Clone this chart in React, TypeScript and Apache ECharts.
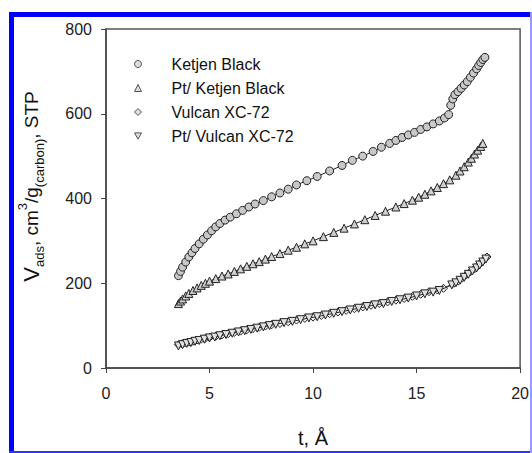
import React, { useEffect, useRef } from "react";
import * as echarts from "echarts";

const seriesNames = ["Ketjen Black", "Pt/ Ketjen Black", "Vulcan XC-72", "Pt/ Vulcan XC-72"];

const ketjenT = [3.5, 3.6, 3.7, 3.85, 4.0, 4.15, 4.3, 4.5, 4.7, 4.9, 5.1, 5.3, 5.5, 5.75, 6.0, 6.3, 6.6, 6.9, 7.2, 7.6, 8.0, 8.4, 8.8, 9.2, 9.7, 10.2, 10.8, 11.4, 11.9, 12.4, 12.9, 13.3, 13.7, 14.0, 14.3, 14.6, 14.9, 15.2, 15.5, 15.8, 16.1, 16.35, 16.55, 16.65, 16.75, 16.85, 17.0, 17.15, 17.3, 17.45, 17.6, 17.75, 17.9, 18.0, 18.1, 18.2, 18.3];
const ketjenV = [218, 228, 238, 250, 262, 272, 282, 293, 304, 314, 324, 333, 341, 349, 356, 364, 372, 380, 387, 395, 404, 413, 422, 432, 442, 452, 465, 478, 490, 500, 511, 521, 530, 537, 544, 550, 556, 563, 569, 576, 583, 590, 598, 620, 635, 645, 652, 660, 668, 676, 686, 696, 706, 714, 721, 728, 733];

const ptKetjenT = [3.5, 3.6, 3.7, 3.85, 4.0, 4.2, 4.4, 4.6, 4.8, 5.0, 5.3, 5.6, 5.9, 6.2, 6.5, 6.8, 7.1, 7.4, 7.7, 8.0, 8.4, 8.8, 9.2, 9.6, 10.0, 10.5, 11.0, 11.5, 12.0, 12.5, 13.0, 13.5, 14.0, 14.4, 14.8, 15.1, 15.4, 15.7, 16.0, 16.3, 16.6, 16.9, 17.1, 17.3, 17.5, 17.65, 17.8, 17.95, 18.1, 18.2];
const ptKetjenV = [152, 158, 163, 170, 176, 183, 189, 195, 200, 205, 211, 217, 222, 228, 234, 240, 246, 251, 257, 263, 270, 278, 285, 293, 300, 310, 320, 330, 340, 350, 360, 370, 380, 388, 396, 403, 410, 418, 426, 435, 444, 455, 465, 475, 486, 495, 505, 514, 523, 530];

const vulcanT = [3.5, 3.65, 3.8, 4.0, 4.2, 4.4, 4.6, 4.8, 5.0, 5.3, 5.6, 5.9, 6.2, 6.5, 6.8, 7.1, 7.4, 7.7, 8.0, 8.4, 8.8, 9.2, 9.6, 10.0, 10.4, 10.8, 11.2, 11.6, 12.0, 12.4, 12.8, 13.2, 13.6, 14.0, 14.4, 14.8, 15.2, 15.6, 16.0, 16.3, 16.8, 17.0, 17.2, 17.4, 17.6, 17.8, 17.95, 18.1, 18.25, 18.4];
const vulcanV = [55, 57, 59, 61, 63, 66, 68, 70, 72, 75, 78, 81, 84, 87, 90, 93, 96, 99, 102, 105, 109, 113, 117, 120, 124, 128, 132, 136, 140, 144, 148, 152, 156, 160, 164, 169, 174, 180, 184, 188, 200, 205, 212, 220, 227, 234, 241, 248, 255, 262];

const ptVulcanT = [3.5, 3.7, 3.9, 4.1, 4.3, 4.5, 4.75, 5.0, 5.25, 5.5, 5.8, 6.1, 6.4, 6.7, 7.0, 7.3, 7.6, 7.9, 8.2, 8.6, 9.0, 9.4, 9.8, 10.2, 10.6, 11.0, 11.4, 11.8, 12.2, 12.6, 13.0, 13.4, 13.8, 14.2, 14.6, 15.0, 15.4, 15.8, 16.1, 16.7, 16.9, 17.1, 17.3, 17.5, 17.7, 17.9, 18.05, 18.2, 18.35];
const ptVulcanV = [52, 55, 58, 60, 63, 65, 68, 71, 73, 76, 79, 82, 85, 88, 91, 94, 97, 100, 103, 107, 110, 114, 118, 121, 125, 129, 133, 137, 141, 145, 149, 152, 157, 161, 165, 170, 175, 179, 183, 196, 201, 207, 214, 221, 229, 236, 243, 250, 257];

const xTicks = { min: 0, max: 20, interval: 5 };
const yTicks = { min: 0, max: 800, interval: 200 };

const FONT = "Liberation Sans, Arial, sans-serif";
const DOWN_TRI = "path://M0,0L10,0L5,9Z";
const DIAMOND = "path://M5,0L10,5L5,10L0,5Z";
const symbols = ["circle", "triangle", DIAMOND, DOWN_TRI];
const fills = ["#c8c8c8", "#d0d0d0", "#f0f0f0", "#e0e0e0"];

const zip = (t: number[], v: number[]) => t.map((x, i) => [x, v[i]]);

export default function App() {
  const ref = useRef<HTMLDivElement>(null);
  useEffect(() => {
    if (!ref.current) return;
    const chart = echarts.init(ref.current, undefined, { renderer: "svg" });
    const datas = [zip(ketjenT, ketjenV), zip(ptKetjenT, ptKetjenV), zip(vulcanT, vulcanV), zip(ptVulcanT, ptVulcanV)];
    chart.setOption({
      animation: false,
      backgroundColor: "#ffffff",
      grid: { left: 106, right: 10, top: 29, bottom: 84, show: true, borderColor: "#555", borderWidth: 1.5 },
      legend: {
        orient: "vertical",
        left: 129,
        top: 51,
        itemWidth: 7,
        itemHeight: 7,
        itemGap: 8,
        data: seriesNames.map((n, i) => ({ name: n, icon: symbols[i] })),
        itemStyle: { color: "#dddddd", borderColor: "#555", borderWidth: 1 },
        textStyle: { fontFamily: FONT, fontSize: 16, color: "#111", lineHeight: 16, padding: [0, 0, 0, 25] },
      },
      xAxis: {
        type: "value",
        ...xTicks,
        name: "t, Å",
        nameLocation: "middle",
        nameGap: 60,
        nameTextStyle: { fontFamily: FONT, fontSize: 20, color: "#111" },
        axisLine: { lineStyle: { color: "#444", width: 1.5 } },
        axisTick: { show: true, length: 5, lineStyle: { color: "#444" } },
        axisLabel: { fontFamily: FONT, fontSize: 16, color: "#222", margin: 17 },
        splitLine: { show: false },
      },
      yAxis: {
        type: "value",
        ...yTicks,
        name: "{b|V}{s|ads}{n|, cm}{p|3}{n|/g}{s|(carbon)}{n|, STP}",
        nameLocation: "middle",
        nameGap: 60,
        nameRotate: 90,
        nameTextStyle: {
          padding: [0, 0, 0, 24],
          rich: {
            b: { fontFamily: FONT, fontSize: 22, color: "#111", lineHeight: 30 },
            n: { fontFamily: FONT, fontSize: 19, color: "#111", lineHeight: 30 },
            s: { fontFamily: FONT, fontSize: 13, color: "#111", lineHeight: 13, verticalAlign: "bottom" },
            p: { fontFamily: FONT, fontSize: 13, color: "#111", lineHeight: 13, verticalAlign: "top" },
          },
        },
        axisLine: { lineStyle: { color: "#444", width: 1.5 } },
        axisTick: { show: true, length: 5, lineStyle: { color: "#444" } },
        axisLabel: { fontFamily: FONT, fontSize: 16, color: "#222", margin: 14 },
        splitLine: { show: false },
      },
      series: seriesNames.map((n, i) => ({
        name: n,
        type: "line",
        data: datas[i],
        symbol: symbols[i],
        symbolSize: 8,
        showAllSymbol: true,
        lineStyle: { color: "#222", width: 1 },
        itemStyle: { color: fills[i], borderColor: "#222", borderWidth: 1 },
        z: 2 + i,
      })),
      graphic: [
        { type: "rect", shape: { x: 9, y: 12, width: 523, height: 5 }, style: { fill: "#0000ff" }, silent: true },
        { type: "rect", shape: { x: 9, y: 12, width: 5, height: 441 }, style: { fill: "#0000ff" }, silent: true },
        { type: "rect", shape: { x: 9, y: 451, width: 523, height: 2 }, style: { fill: "#3333ff" }, silent: true },
        { type: "rect", shape: { x: 530, y: 12, width: 2, height: 441 }, style: { fill: "#9999ff" }, silent: true },
      ],
    });
    return () => chart.dispose();
  }, []);
  return <div ref={ref} style={{ position: "fixed", left: 0, top: 0, width: 532, height: 453 }} />;
}
